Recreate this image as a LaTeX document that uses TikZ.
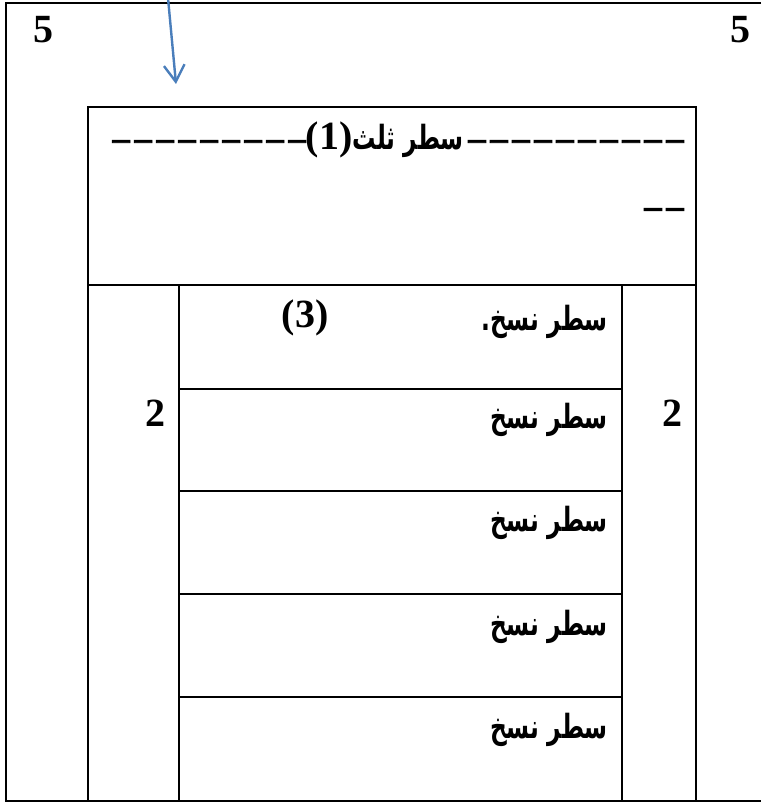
\documentclass[tikz,border=0pt]{standalone}
\usepackage{fontspec}
\setmainfont{Liberation Serif}
\newfontfamily\arabicfont[Script=Arabic,FakeStretch=0.7]{DejaVu Sans}
\newfontfamily\dashfont[FakeBold=2.5]{Liberation Serif}
\TeXXeTstate=1
\usetikzlibrary{arrows.meta}
\definecolor{arrowblue}{RGB}{74,126,187}
\newcommand\dashrun[1]{\foreach \k in {1,...,#1}{\kern3.5pt{\dashfont\fontsize{26}{32}\selectfont–}}}
\tikzset{
    frame/.style={
        draw,
        line width=2pt
    },
    numlabel/.style={
        font=\fontsize{30}{36}\selectfont\bfseries,
        inner sep=0pt
    },
    headtext/.style={
        font=\fontsize{30}{36}\selectfont\bfseries,
        anchor=east,
        inner sep=0pt
    },
    rowtext/.style={
        font=\fontsize{25}{30}\selectfont\bfseries\arabicfont,
        anchor=east,
        inner sep=0pt
    },
    pointer/.style={
        draw=arrowblue,
        line width=1.8pt,
        -{Straight Barb[length=12.5pt,width=15.5pt]}
    }
}

\begin{document}
\begin{tikzpicture}[x=0.75pt,y=-0.75pt]
\useasboundingbox (0,0) rectangle (761,802);
% outer frame, open on the right
\draw[frame] (761,3) -- (6,3) -- (6,801) -- (761,801);
% inner box with header and columns
\draw[frame] (88,107) rectangle (696,801);
\draw[frame] (88,285) -- (696,285);
\draw[frame] (179,285) -- (179,801);
\draw[frame] (622,285) -- (622,801);
\foreach \y in {389,491,594,697}
  \draw[frame] (179,\y) -- (622,\y);

\node[numlabel] (fiveL) at (43,30) {5};
\node[numlabel] (fiveR) at (740,30) {5};
\node[numlabel] (twoL) at (155,413) {2};
\node[numlabel] (twoR) at (672,413) {2};

\node[headtext] (head1) at (684,140)
  {\dashrun{9}(1){\fontsize{25}{30}\selectfont\arabicfont\beginR سطر ثلث\endR}\dashrun{10}};
\node[headtext] (head2) at (684,213) {\dashrun{2}};

\node[rowtext] (row1) at (608,322) {.{\beginR سطر نسخ\endR}};
\node[numlabel] (three) at (305,318) {(3)};
\foreach \y [count=\i from 2] in {420,523,627,730}
  \node[rowtext] (row\i) at (608,\y) {\beginR سطر نسخ\endR};

% blue pointer from above the frame
\coordinate (ptop) at (168,-2);
\coordinate (ptip) at (176,84);
\draw[pointer] (ptop) -- (ptip);
\end{tikzpicture}
\end{document}
